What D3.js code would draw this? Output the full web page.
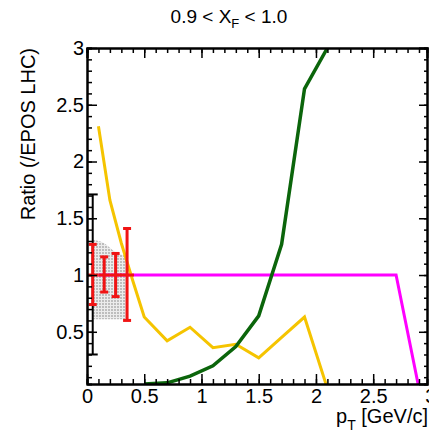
<!DOCTYPE html>
<html>
<head>
<meta charset="utf-8">
<script src="https://cdn.jsdelivr.net/npm/d3@7"></script>
<style>
  body { margin: 0; background: #fff; }
  text { font-family: "Liberation Sans", Arial, sans-serif; }
</style>
</head>
<body>
<svg id="chart"></svg>
<script>
// Data
var xTicks = [0, 0.5, 1, 1.5, 2, 2.5, 3];
var yTicks = [0.5, 1, 1.5, 2, 2.5, 3];
var yTickLabels = ["0.5", "1", "1.5", "2", "2.5", "3"];

// yellow model
var yellowPt = [0.1, 0.2, 0.3, 0.4, 0.5, 0.7, 0.9, 1.1, 1.3, 1.5, 1.7, 1.9, 2.1];
var yellowRatio = [2.31, 1.66, 1.28, 0.95, 0.63, 0.42, 0.54, 0.36, 0.39, 0.27, 0.45, 0.63, 0.0];

// green model
var greenPt = [0.5, 0.7, 0.9, 1.1, 1.3, 1.5, 1.7, 1.9, 2.1];
var greenRatio = [0.04, 0.05, 0.11, 0.2, 0.37, 0.64, 1.27, 2.64, 3.0];

// magenta (reference) model
var magentaPt = [0.1, 0.3, 0.5, 0.7, 0.9, 1.1, 1.3, 1.5, 1.7, 1.9, 2.1, 2.3, 2.5, 2.7, 2.9];
var magentaRatio = [1, 1, 1, 1, 1, 1, 1, 1, 1, 1, 1, 1, 1, 1, 0];

// data points (red) + systematics band
var dataPt = [0.05, 0.15, 0.25, 0.35];
var dataRatio = [1, 1, 1, 1];
var dataLow = [0.74, 0.85, 0.81, 0.60];
var dataHigh = [1.27, 1.16, 1.19, 1.41];
var dataXErr = [0.05, 0.05, 0.05, 0.06];
var sysLow = [0.61, 0.61, 0.61, 0.61];
var sysHigh = [1.31, 1.28, 1.2, 1.17];

// black error bar
var blackPt = [0.05];
var blackLow = [0.30];
var blackHigh = [1.71];

var width = 429, height = 433;
// frame edges ("top" is taken by window.top, so prefix them)
var frameL = 87, frameR = 427, frameT = 48, frameB = 384;

var svg = d3.select("#chart")
  .attr("width", width)
  .attr("height", height);

var x = d3.scaleLinear().domain([0, 2.97]).range([frameL, frameR]);
var y = d3.scaleLinear().domain([0.04, 3]).range([frameB, frameT]);

var defs = svg.append("defs");

// clip to frame
defs.append("clipPath").attr("id", "frame")
  .append("rect")
  .attr("x", frameL).attr("y", frameT)
  .attr("width", frameR - frameL).attr("height", frameB - frameT);

// dotted grey fill for the band
var pat = defs.append("pattern")
  .attr("id", "dots")
  .attr("width", 3).attr("height", 3)
  .attr("patternUnits", "userSpaceOnUse");
pat.append("rect").attr("width", 3).attr("height", 3).attr("fill", "#ececec");
pat.append("circle").attr("cx", 1).attr("cy", 1).attr("r", 0.9).attr("fill", "#a8a8a8");

var plot = svg.append("g").attr("clip-path", "url(#frame)");

// systematics band
var band = d3.area()
  .x(function (d) { return x(d.pt); })
  .y0(function (d) { return y(d.lo); })
  .y1(function (d) { return y(d.hi); })
  .curve(d3.curveMonotoneX);
plot.append("path")
  .datum(dataPt.map(function (p, i) { return { pt: p, lo: sysLow[i], hi: sysHigh[i] }; }))
  .attr("d", band)
  .attr("fill", "url(#dots)");

var line = d3.line()
  .x(function (d) { return x(d[0]); })
  .y(function (d) { return y(d[1]); });

function drawLine(pts, vals, colour, w) {
  plot.append("path")
    .datum(d3.zip(pts, vals))
    .attr("d", line)
    .attr("fill", "none")
    .attr("stroke", colour)
    .attr("stroke-width", w)
    .attr("stroke-linejoin", "miter");
}

drawLine(magentaPt, magentaRatio, "#ff00ff", 3);
drawLine(yellowPt, yellowRatio, "#f5c400", 3);
drawLine(greenPt, greenRatio, "#0b650b", 3.5);

// black error bar
blackPt.forEach(function (p, i) {
  plot.append("line")
    .attr("x1", x(p)).attr("x2", x(p))
    .attr("y1", y(blackLow[i])).attr("y2", y(blackHigh[i]))
    .attr("stroke", "#000").attr("stroke-width", 2);
  [blackLow[i], blackHigh[i]].forEach(function (v) {
    plot.append("line")
      .attr("x1", x(p) - 5).attr("x2", x(p) + 5)
      .attr("y1", y(v)).attr("y2", y(v))
      .attr("stroke", "#000").attr("stroke-width", 2);
  });
});

// red data points
var red = "#f01414";
dataPt.forEach(function (p, i) {
  var g = plot.append("g").attr("stroke", red).attr("stroke-width", 3);
  g.append("line")
    .attr("x1", x(p - dataXErr[i])).attr("x2", x(p + dataXErr[i]))
    .attr("y1", y(dataRatio[i])).attr("y2", y(dataRatio[i]));
  g.append("line")
    .attr("x1", x(p)).attr("x2", x(p))
    .attr("y1", y(dataLow[i])).attr("y2", y(dataHigh[i]));
  [dataLow[i], dataHigh[i]].forEach(function (v) {
    g.append("line")
      .attr("x1", x(p) - 4).attr("x2", x(p) + 4)
      .attr("y1", y(v)).attr("y2", y(v));
  });
});

// Axes (ticks point inward)
var xMinor = d3.range(0, 30).map(function (d) { return d / 10; });
var yMinor = d3.range(1, 31).map(function (d) { return d / 10; });

function styleAxis(g) {
  g.selectAll("path.domain").attr("stroke-width", 2);
  g.selectAll(".tick line").attr("stroke-width", 1.5);
  g.selectAll("text").attr("font-size", 20).attr("fill", "#000")
    .style("font-family", "'Liberation Sans', Arial, sans-serif");
}

svg.append("g").attr("transform", "translate(0," + frameB + ")")
  .call(d3.axisBottom(x).tickValues(xMinor).tickSize(-5).tickFormat(""))
  .call(styleAxis);
svg.append("g").attr("transform", "translate(0," + frameB + ")")
  .call(d3.axisBottom(x).tickValues(xTicks).tickSizeInner(-10).tickSizeOuter(0).tickPadding(5)
    .tickFormat(d3.format("")))
  .call(styleAxis);

svg.append("g").attr("transform", "translate(0," + frameT + ")")
  .call(d3.axisTop(x).tickValues(xMinor).tickSize(-5).tickFormat(""))
  .call(styleAxis);
svg.append("g").attr("transform", "translate(0," + frameT + ")")
  .call(d3.axisTop(x).tickValues(xTicks).tickSize(-10).tickFormat(""))
  .call(styleAxis);

svg.append("g").attr("transform", "translate(" + frameL + ",0)")
  .call(d3.axisLeft(y).tickValues(yMinor).tickSize(-5).tickFormat(""))
  .call(styleAxis);
svg.append("g").attr("transform", "translate(" + frameL + ",0)")
  .call(d3.axisLeft(y).tickValues(yTicks).tickSizeInner(-10).tickSizeOuter(0).tickPadding(3)
    .tickFormat(function (d, i) { return yTickLabels[i]; }))
  .call(styleAxis);

svg.append("g").attr("transform", "translate(" + frameR + ",0)")
  .call(d3.axisRight(y).tickValues(yMinor).tickSize(-3).tickFormat(""))
  .call(styleAxis);
svg.append("g").attr("transform", "translate(" + frameR + ",0)")
  .call(d3.axisRight(y).tickValues(yTicks).tickSize(-8).tickFormat(""))
  .call(styleAxis);

// Title
var title = svg.append("text")
  .attr("x", 229).attr("y", 23)
  .attr("text-anchor", "middle")
  .attr("font-size", 19);
title.append("tspan").text("0.9 < X");
title.append("tspan").attr("font-size", 13).attr("dy", 5).text("F");
title.append("tspan").attr("dy", -5).text(" < 1.0");

// Axis titles
svg.append("text")
  .attr("transform", "translate(35,48) rotate(-90)")
  .attr("text-anchor", "end")
  .attr("font-size", 20)
  .text("Ratio (/EPOS LHC)");

var xt = svg.append("text")
  .attr("x", 428).attr("y", 423)
  .attr("text-anchor", "end")
  .attr("font-size", 20);
xt.append("tspan").text("p");
xt.append("tspan").attr("font-size", 14).attr("dy", 7).text("T");
xt.append("tspan").attr("dy", -7).text(" [GeV/c]");
</script>
</body>
</html>
